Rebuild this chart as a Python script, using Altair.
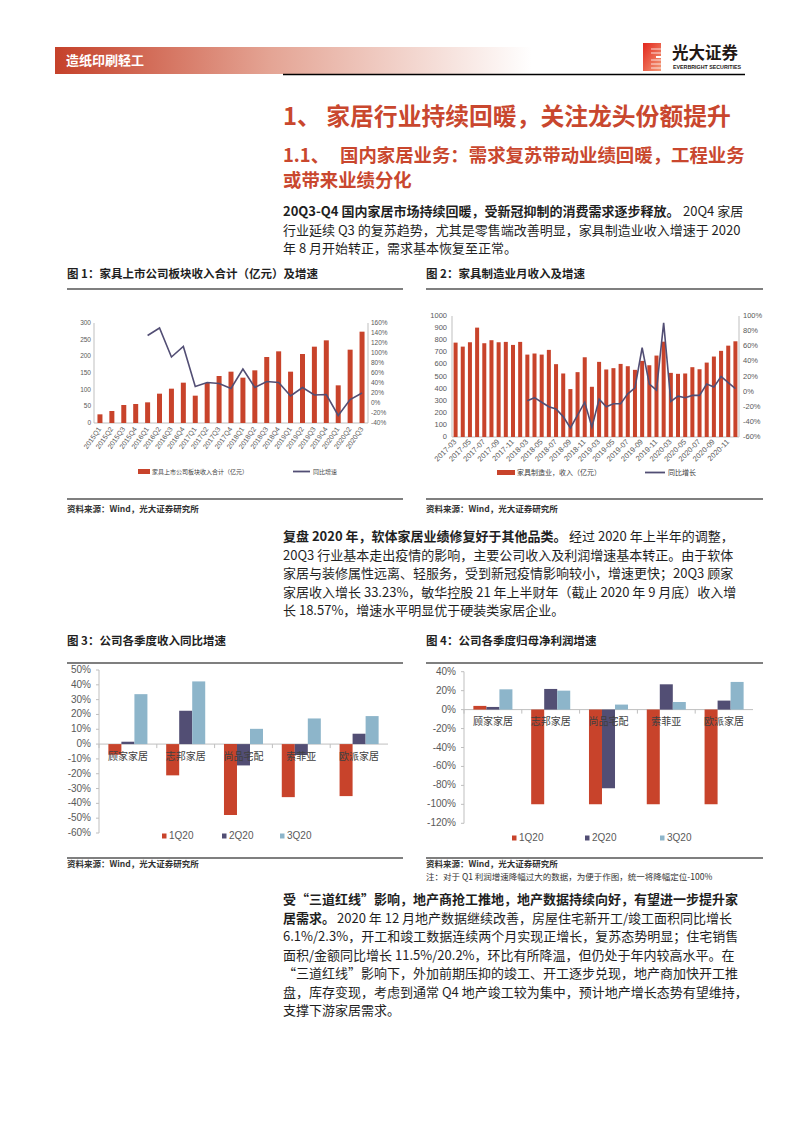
import altair as alt
import pandas as pd

OFF = 8
def P(v):
    return v - OFF

CJK = "Noto Sans CJK SC"
LAT = "Liberation Sans"
RED = "#C8432B"
PURPLE = "#524E74"
LBLUE = "#8DB5CA"
TRED = "#C9472E"
AX = "#BFBFBF"
LG = "#595959"
TX = "#1F1F1F"

# ---------------- data ----------------
q_cats = ["2015Q1", "2015Q2", "2015Q3", "2015Q4", "2016Q1", "2016Q2", "2016Q3", "2016Q4",
          "2017Q1", "2017Q2", "2017Q3", "2017Q4", "2018Q1", "2018Q2", "2018Q3", "2018Q4",
          "2019Q1", "2019Q2", "2019Q3", "2019Q4", "2020Q1", "2020Q2", "2020Q3"]
q_rev = [26, 36, 54, 57, 62, 88, 103, 121, 82, 120, 141, 154, 136, 158, 198, 215,
         154, 207, 229, 248, 113, 220, 274]
q_yoy_cats = q_cats[4:]
q_yoy = [135, 150, 92, 113, 33, 41, 39, 29, 68, 31, 43, 41, 14, 31, 16, 17, -25, 7, 20]
c1_left_ticks = [0, 50, 100, 150, 200, 250, 300]
c1_right_ticks = [-40, -20, 0, 20, 40, 60, 80, 100, 120, 140, 160]

m_cats = [f"{y}-{m:02d}" for y in (2017, 2018, 2019, 2020) for m in range(3, 13)]
m_rev = [780, 747, 783, 904, 775, 800, 783, 786, 761, 786,
         681, 690, 681, 720, 602, 525, 396, 536, 659, 415,
         621, 558, 569, 604, 585, 555, 629, 593, 673, 788,
         530, 522, 525, 577, 560, 615, 665, 712, 755, 791]
m_yoy_cats = m_cats[10:]
m_yoy = [-12, -8, -14, -20, -23, -33, -48, -31, -14, -47,
         -10, -20, -16, -16, -3, 5, 58, 10, 2, 91,
         -13, -6, -8, -5, -5, 10, 6, 20, 12, 4]
c2_left_ticks = [0, 100, 200, 300, 400, 500, 600, 700, 800, 900, 1000]
c2_right_ticks = [-60, -40, -20, 0, 20, 40, 60, 80, 100]

comps = ["顾家家居", "志邦家居", "尚品宅配", "索菲亚", "欧派家居"]
series = ["1Q20", "2Q20", "3Q20"]
rev_1q = [-7.2, -21.1, -47.9, -35.8, -35.1]
rev_2q = [1.6, 22.5, -14.4, -7.4, 7.0]
rev_3q = [33.7, 42.3, 10.3, 17.3, 18.9]
np_1q = [3.9, -100, -100, -100, -100]
np_2q = [2.8, 21.8, -83.0, 26.7, 9.5]
np_3q = [21.4, 20.0, 5.3, 8.0, 29.2]
c3_ticks = [-60, -50, -40, -30, -20, -10, 0, 10, 20, 30, 40, 50]
c4_ticks = [-120, -100, -80, -60, -40, -20, 0, 20, 40]

# ---------------- texts ----------------
header_tag = "造纸印刷轻工"
logo_cn = "光大证券"
logo_en = "EVERBRIGHT SECURITIES"
h1 = "1、 家居行业持续回暖，关注龙头份额提升"
h2_num = "1.1、"
h2_l1 = "国内家居业务：需求复苏带动业绩回暖，工程业务"
h2_l2 = "或带来业绩分化"
p1_bold = "20Q3-Q4 国内家居市场持续回暖，受新冠抑制的消费需求逐步释放。"
p1_rest = "20Q4 家居"
p1_lines = ["行业延续 Q3 的复苏趋势，尤其是零售端改善明显，家具制造业收入增速于 2020",
            "年 8 月开始转正，需求基本恢复至正常。"]
fig1_title = "图 1：家具上市公司板块收入合计（亿元）及增速"
fig2_title = "图 2：家具制造业月收入及增速"
fig3_title = "图 3：公司各季度收入同比增速"
fig4_title = "图 4：公司各季度归母净利润增速"
src = "资料来源：Wind，光大证券研究所"
note4 = "注：对于 Q1 利润增速降幅过大的数据，为便于作图，统一将降幅定位-100%"
leg1_bar = "家具上市公司板块收入合计（亿元）"
leg1_line = "同比增速"
leg2_bar = "家具制造业，收入（亿元）"
leg2_line = "同比增长"
p2_bold = "复盘 2020 年，软体家居业绩修复好于其他品类。"
p2_rest = "经过 2020 年上半年的调整，"
p2_lines = ["20Q3 行业基本走出疫情的影响，主要公司收入及利润增速基本转正。由于软体",
            "家居与装修属性远离、轻服务，受到新冠疫情影响较小，增速更快；20Q3 顾家",
            "家居收入增长 33.23%，敏华控股 21 年上半财年（截止 2020 年 9 月底）收入增",
            "长 18.57%，增速水平明显优于硬装类家居企业。"]
p3_bold1 = "受“三道红线”影响，地产商抢工推地，地产数据持续向好，有望进一步提升家"
p3_bold2 = "居需求。"
p3_rest2 = "2020 年 12 月地产数据继续改善，房屋住宅新开工/竣工面积同比增长"
p3_lines = ["6.1%/2.3%，开工和竣工数据连续两个月实现正增长，复苏态势明显；住宅销售",
            "面积/金额同比增长 11.5%/20.2%，环比有所降温，但仍处于年内较高水平。在",
            "“三道红线”影响下，外加前期压抑的竣工、开工逐步兑现，地产商加快开工推",
            "盘，库存变现，考虑到通常 Q4 地产竣工较为集中，预计地产增长态势有望维持，",
            "支撑下游家居需求。"]

layers = []

def one():
    return alt.Data(values=[{"z": 0}])

def text_at(s, x, y, size, color=TX, weight="normal", font=CJK, align="left", baseline="middle"):
    return alt.Chart(alt.Data(values=[{"t": s}])).mark_text(
        align=align, baseline=baseline, fontSize=size, font=font, fontWeight=weight, color=color
    ).encode(x=alt.value(P(x)), y=alt.value(P(y)), text="t:N")

def rect_at(x0, x1, y0, y1, color):
    return alt.Chart(one()).mark_rect(color=color).encode(
        x=alt.value(P(x0)), x2=alt.value(P(x1)), y=alt.value(P(y0)), y2=alt.value(P(y1)))

def hline(x0, x1, y, color="#000000", w=1.0):
    return alt.Chart(one()).mark_rule(color=color, strokeWidth=w).encode(
        x=alt.value(P(x0)), x2=alt.value(P(x1)), y=alt.value(P(y)))

def vline(x, y0, y1, color=AX, w=1.0):
    return alt.Chart(one()).mark_rule(color=color, strokeWidth=w).encode(
        x=alt.value(P(x)), y=alt.value(P(y0)), y2=alt.value(P(y1)))

def band(domain, x0, x1, pi=0.0, po=0.0):
    return alt.Scale(type="band", domain=domain, range=[P(x0), P(x1)], paddingInner=pi, paddingOuter=po)

def lin(domain, ybot, ytop):
    return alt.Scale(domain=domain, range=[P(ybot), P(ytop)], nice=False, zero=False)

# ---------------- header ----------------
grad = alt.Chart(one()).mark_rect(fill={
    "gradient": "linear", "x1": 0, "x2": 1, "y1": 0, "y2": 0,
    "stops": [{"offset": 0, "color": "#C5412A"}, {"offset": 0.45, "color": "#E4A494"},
              {"offset": 1, "color": "#FFFFFF"}]}).encode(
    x=alt.value(P(55)), x2=alt.value(P(532)), y=alt.value(P(47)), y2=alt.value(P(74)))
layers.append(grad)
layers.append(text_at(header_tag, 66, 61, 13, color="#FFFFFF", weight="bold"))
layers.append(hline(283, 745, 74.5, w=1.5))
# logo
logo = alt.Chart(one()).mark_rect(fill={
    "gradient": "linear", "x1": 0, "x2": 1, "y1": 0, "y2": 1,
    "stops": [{"offset": 0, "color": "#E2261C"}, {"offset": 1, "color": "#F39A78"}]}).encode(
    x=alt.value(P(643)), x2=alt.value(P(661)), y=alt.value(P(43)), y2=alt.value(P(71)))
layers.append(logo)
for yy in (49, 53, 60, 64, 68):
    layers.append(hline(651, 661, yy, color="#FFFFFF", w=0.8))
layers.append(rect_at(656, 661, 56, 58, "#FFFFFF"))
layers.append(text_at(logo_cn, 672, 54, 16.5, color="#231815", weight="bold"))
layers.append(text_at(logo_en, 673, 66.5, 5.3, color="#231815", font=LAT, weight="bold"))

# ---------------- headings & para 1 ----------------
layers.append(text_at(h1, 283, 118, 23.8, color=TRED, weight="bold"))
layers.append(text_at(h2_num, 283, 156, 18.4, color=TRED, weight="bold"))
layers.append(text_at(h2_l1, 340, 156, 18.4, color=TRED, weight="bold"))
layers.append(text_at(h2_l2, 283, 181, 18.4, color=TRED, weight="bold"))
layers.append(text_at(p1_bold, 283, 212, 13, weight="bold"))
layers.append(text_at(p1_rest, 683, 212, 13))
for i, s in enumerate(p1_lines):
    layers.append(text_at(s, 283, 230.5 + i * 18.5, 13))

# ---------------- figure titles / source lines ----------------
for (tl, x0, x1) in ((fig1_title, 67, 403), (fig2_title, 426, 763)):
    layers.append(text_at(tl, x0, 275, 11.5, weight="bold"))
    layers.append(hline(x0, x1, 289, w=1.2))
    layers.append(hline(x0, x1, 499, w=1.2))
    layers.append(text_at(src, x0, 509, 8.5, weight="bold", color="#333333"))
for (tl, x0, x1) in ((fig3_title, 67, 403), (fig4_title, 426, 763)):
    layers.append(text_at(tl, x0, 642, 11.5, weight="bold"))
    layers.append(hline(x0, x1, 663, w=1.2))
    layers.append(hline(x0, x1, 858, w=1.2))
    layers.append(text_at(src, x0, 864, 8.5, weight="bold", color="#333333"))
layers.append(text_at(note4, 426, 877, 8.5, color="#333333"))

# ---------------- chart 1 ----------------
def s1x():
    return band(q_cats, 94, 368, 0.58, 0.29)
df1 = pd.DataFrame({"q": q_cats, "rev": q_rev})
df1l = pd.DataFrame({"q": q_yoy_cats, "yoy": q_yoy, "i": list(range(len(q_yoy)))})
layers.append(vline(94, 323, 423))
layers.append(vline(368, 323, 423))
layers.append(alt.Chart(one()).mark_rule(color=AX).encode(
    x=alt.value(P(94)), x2=alt.value(P(368)),
    y=alt.Y("z:Q", scale=lin([0, 300], 423, 323), axis=None)))
layers.append(alt.Chart(df1).mark_bar(color=RED).transform_calculate(z="0").encode(
    x=alt.X("q:N", scale=s1x(), axis=None),
    y=alt.Y("rev:Q", scale=lin([0, 300], 423, 323), axis=None),
    y2="z:Q"))
layers.append(alt.Chart(df1l).mark_line(color=PURPLE, strokeWidth=1.6).encode(
    x=alt.X("q:N", scale=s1x(), axis=None, bandPosition=0.5),
    y=alt.Y("yoy:Q", scale=lin([-40, 160], 423, 323), axis=None),
    order="i:Q"))
layers.append(alt.Chart(pd.DataFrame({"v": c1_left_ticks})).mark_text(
    align="right", baseline="middle", fontSize=6.5, font=LAT, color=LG).encode(
    x=alt.value(P(91)), y=alt.Y("v:Q", scale=lin([0, 300], 423, 323), axis=None), text="v:N"))
layers.append(alt.Chart(pd.DataFrame({"v": c1_right_ticks})).mark_text(
    align="left", baseline="middle", fontSize=6.5, font=LAT, color=LG).transform_calculate(
    lab="datum.v + '%'").encode(
    x=alt.value(P(371)), y=alt.Y("v:Q", scale=lin([-40, 160], 423, 323), axis=None), text="lab:N"))
layers.append(alt.Chart(df1).mark_text(
    angle=305, align="right", baseline="middle", fontSize=7, font=LAT, color=LG).encode(
    x=alt.X("q:N", scale=s1x(), axis=None, bandPosition=0.5), y=alt.value(P(428)), text="q:N"))
layers.append(rect_at(138, 150, 469, 474, RED))
layers.append(text_at(leg1_bar, 152, 471.5, 6, color="#404040"))
layers.append(hline(293, 310, 471.5, color=PURPLE, w=1.8))
layers.append(text_at(leg1_line, 313, 471.5, 6, color="#404040"))

# ---------------- chart 2 ----------------
def s2x():
    return band(m_cats, 452, 739, 0.44, 0.22)
df2 = pd.DataFrame({"m": m_cats, "rev": m_rev})
df2l = pd.DataFrame({"m": m_yoy_cats, "yoy": m_yoy, "i": list(range(len(m_yoy)))})
df2lab = pd.DataFrame({"m": m_cats[::2]})
layers.append(vline(452, 316, 437))
layers.append(vline(739, 316, 437))
layers.append(alt.Chart(one()).mark_rule(color=AX).encode(
    x=alt.value(P(452)), x2=alt.value(P(739)),
    y=alt.Y("z:Q", scale=lin([0, 1000], 437, 316), axis=None)))
layers.append(alt.Chart(df2).mark_bar(color=RED).transform_calculate(z="0").encode(
    x=alt.X("m:N", scale=s2x(), axis=None),
    y=alt.Y("rev:Q", scale=lin([0, 1000], 437, 316), axis=None),
    y2="z:Q"))
layers.append(alt.Chart(df2l).mark_line(color=PURPLE, strokeWidth=1.6).encode(
    x=alt.X("m:N", scale=s2x(), axis=None, bandPosition=0.5),
    y=alt.Y("yoy:Q", scale=lin([-60, 100], 437, 316), axis=None),
    order="i:Q"))
layers.append(alt.Chart(pd.DataFrame({"v": c2_left_ticks})).mark_text(
    align="right", baseline="middle", fontSize=7.5, font=LAT, color=LG).encode(
    x=alt.value(P(447)), y=alt.Y("v:Q", scale=lin([0, 1000], 437, 316), axis=None), text="v:N"))
layers.append(alt.Chart(pd.DataFrame({"v": c2_right_ticks})).mark_text(
    align="left", baseline="middle", fontSize=7.5, font=LAT, color=LG).transform_calculate(
    lab="datum.v + '%'").encode(
    x=alt.value(P(743)), y=alt.Y("v:Q", scale=lin([-60, 100], 437, 316), axis=None), text="lab:N"))
layers.append(alt.Chart(df2lab).mark_text(
    angle=315, align="right", baseline="middle", fontSize=7.5, font=LAT, color=LG).encode(
    x=alt.X("m:N", scale=s2x(), axis=None, bandPosition=0.5), y=alt.value(P(441)), text="m:N"))
layers.append(rect_at(497, 515, 470, 475, RED))
layers.append(text_at(leg2_bar, 517, 472.5, 7, color="#404040"))
layers.append(hline(645, 665, 472.5, color=PURPLE, w=1.8))
layers.append(text_at(leg2_line, 668, 472.5, 7, color="#404040"))

# ---------------- charts 3 & 4 ----------------
def grouped(vals, ticks, dom, x0, x1, ybot, ytop, lab_x, cat_y, leg_y, leg_xs):
    rows = []
    for s, vs in zip(series, vals):
        for c, v in zip(comps, vs):
            rows.append({"c": c, "s": s, "v": v})
    df = pd.DataFrame(rows)
    def sx():
        return band(comps, x0, x1, 0.0, 0.0)
    def sy():
        return lin(dom, ybot, ytop)
    out = []
    out.append(vline(x0, ytop, ybot))
    out.append(alt.Chart(one()).mark_rule(color=AX).encode(
        x=alt.value(P(x0)), x2=alt.value(P(x1)), y=alt.Y("z:Q", scale=sy(), axis=None)))
    out.append(alt.Chart(pd.DataFrame({"c": comps})).mark_rule(color=AX).transform_calculate(
        z="0").encode(
        x=alt.X("c:N", scale=sx(), axis=None, bandPosition=0),
        y=alt.Y("z:Q", scale=sy(), axis=None),
        y2=alt.value(P(ybot - (0 - dom[0]) / (dom[1] - dom[0]) * (ybot - ytop) + 4))))
    out.append(alt.Chart(pd.DataFrame({"v": ticks})).mark_rule(color=AX).encode(
        x=alt.value(P(x0 - 3)), x2=alt.value(P(x0)), y=alt.Y("v:Q", scale=sy(), axis=None)))
    out.append(alt.Chart(df).mark_bar().transform_calculate(z="0").encode(
        x=alt.X("c:N", scale=sx(), axis=None),
        xOffset=alt.XOffset("s:N", scale=alt.Scale(domain=series, paddingInner=0, paddingOuter=0.72)),
        y=alt.Y("v:Q", scale=sy(), axis=None),
        y2="z:Q",
        color=alt.Color("s:N", scale=alt.Scale(domain=series, range=[RED, PURPLE, LBLUE]), legend=None)))
    out.append(alt.Chart(pd.DataFrame({"v": ticks})).mark_text(
        align="right", baseline="middle", fontSize=10, font=LAT, color=LG).transform_calculate(
        lab="datum.v + '%'").encode(
        x=alt.value(P(lab_x)), y=alt.Y("v:Q", scale=sy(), axis=None), text="lab:N"))
    out.append(alt.Chart(pd.DataFrame({"c": comps})).mark_text(
        align="center", baseline="middle", fontSize=10, font=CJK, color="#404040").encode(
        x=alt.X("c:N", scale=sx(), axis=None, bandPosition=0.5), y=alt.value(P(cat_y)), text="c:N"))
    for s, col, lx in zip(series, [RED, PURPLE, LBLUE], leg_xs):
        out.append(rect_at(lx, lx + 4.5, leg_y - 2.5, leg_y + 2.5, col))
        out.append(text_at(s, lx + 7, leg_y, 10, color=LG, font=LAT))
    return out

layers += grouped([rev_1q, rev_2q, rev_3q], c3_ticks, [-60, 50], 99, 388, 833, 670,
                  91, 757, 836, [162, 222, 280])
layers += grouped([np_1q, np_2q, np_3q], c4_ticks, [-120, 40], 464, 753, 823.3, 671.7,
                  456, 722, 838, [512, 585, 660])

# ---------------- paragraphs 2 & 3 ----------------
layers.append(text_at(p2_bold, 283, 537, 13, weight="bold"))
layers.append(text_at(p2_rest, 569, 537, 13))
for i, s in enumerate(p2_lines):
    layers.append(text_at(s, 283, 555.5 + i * 18.5, 13))
layers.append(text_at(p3_bold1, 283, 900, 13, weight="bold"))
layers.append(text_at(p3_bold2, 283, 918.5, 13, weight="bold"))
layers.append(text_at(p3_rest2, 337, 918.5, 13))
for i, s in enumerate(p3_lines):
    layers.append(text_at(s, 283, 937 + i * 18.5, 13))

chart = alt.layer(*layers).properties(
    width=777, height=1106, padding=0,
    autosize=alt.AutoSizeParams(type="none"), background="white"
).resolve_scale(
    x="independent", y="independent", xOffset="independent", color="independent"
).configure_view(stroke=None)

chart.save("out.html", embed_options={"renderer": "svg", "actions": False})
